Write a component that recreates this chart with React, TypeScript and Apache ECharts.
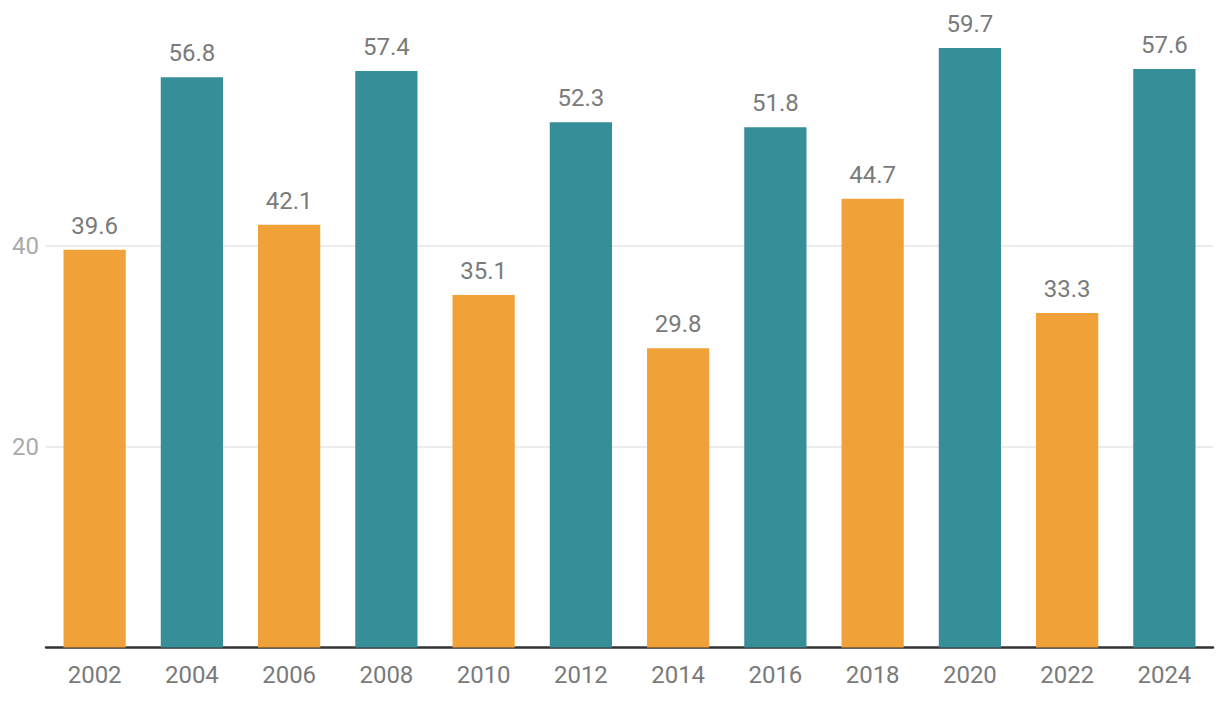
import React, { useEffect, useRef } from "react";
import * as echarts from "echarts";

const years = ["2002", "2004", "2006", "2008", "2010", "2012", "2014", "2016", "2018", "2020", "2022", "2024"];
const values = [39.6, 56.8, 42.1, 57.4, 35.1, 52.3, 29.8, 51.8, 44.7, 59.7, 33.3, 57.6];
const groups = ["A", "B", "A", "B", "A", "B", "A", "B", "A", "B", "A", "B"];
const groupColors: Record<string, string> = { A: "#F0A238", B: "#368E98" };
const yTicks = [0, 20, 40, 60];

export default function App() {
  const ref = useRef<HTMLDivElement>(null);
  useEffect(() => {
    document.body.style.margin = "0";
    const chart = echarts.init(ref.current!, null, { renderer: "svg" });
    chart.setOption({
      animation: false,
      grid: { left: 46, right: 7, top: 45, bottom: 56.5, containLabel: false },
      xAxis: {
        type: "category",
        data: years,
        axisLine: { show: true, lineStyle: { color: "#333", width: 2.5 } },
        axisTick: { show: false },
        axisLabel: { color: "#7a7a7a", fontSize: 24, fontFamily: "Roboto", margin: 15 },
      },
      yAxis: {
        type: "value",
        min: yTicks[0],
        max: yTicks[yTicks.length - 1],
        interval: 20,
        axisLine: { show: false },
        axisTick: { show: false },
        axisLabel: {
          color: "#aaa",
          fontSize: 24,
          fontFamily: "Roboto",
          margin: 7,
          showMinLabel: false,
          showMaxLabel: false,
        },
        splitLine: { show: true, showMinLine: false, showMaxLine: false, lineStyle: { color: "#e6e6e6", width: 1.5 } },
      },
      series: [
        {
          type: "bar",
          barCategoryGap: "36%",
          data: values.map((v, i) => ({ value: v, itemStyle: { color: groupColors[groups[i]] } })),
          label: {
            show: true,
            position: "top",
            distance: 12,
            color: "#7a7a7a",
            fontSize: 24,
            fontFamily: "Roboto",
            formatter: (p: any) => p.value.toFixed(1),
          },
        },
      ],
    });
    return () => chart.dispose();
  }, []);
  return <div ref={ref} style={{ width: 1220, height: 704 }} />;
}
